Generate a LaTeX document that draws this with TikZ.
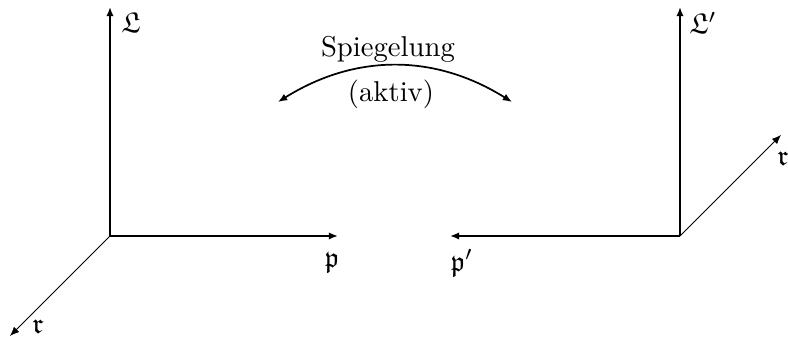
\documentclass[tikz,border=0pt]{standalone}
\usepackage{amsmath}
\usepackage{amssymb}
\usepackage{tikz}
\usetikzlibrary{arrows.meta,positioning}
\tikzset{
  axis/.style={line width=0.9pt, -{Latex[length=3.2pt,width=2.6pt]}},
  depth/.style={line width=0.35pt, -{Latex[length=3.2pt,width=2.6pt]}},
  flip/.style={line width=0.6pt, {Latex[length=3.2pt,width=2.6pt]}-{Latex[length=3.2pt,width=2.6pt]}},
  lbl/.style={inner sep=0pt},
}

\begin{document}
\begin{tikzpicture}[x=0.3484pt, y=0.3484pt]
    \useasboundingbox (0,0) rectangle (788,340);
    % left frame
    \coordinate (lo) at (110,104);
    \coordinate (ltop) at (110,333);
    \coordinate (lp) at (338,104);
    \coordinate (lr) at (10,4);
    % right frame
    \coordinate (ro) at (680,104);
    \coordinate (rtop) at (680,333);
    \coordinate (rp) at (450,104);
    \coordinate (rr) at (781,205);
    % mirror arc
    \coordinate (al) at (278,238);
    \coordinate (ar) at (512,238);
    \node[lbl] (lL) at (131,317) {$\mathfrak{L}$};
    \node[lbl] (lpl) at (332,77) {$\mathfrak{p}$};
    \node[lbl] (lrl) at (38,13) {$\mathfrak{r}$};
    \node[lbl] (rL) at (703,317) {$\mathfrak{L}'$};
    \node[lbl] (rpl) at (462,77) {$\mathfrak{p}'$};
    \node[lbl] (rrl) at (783,181) {$\mathfrak{r}$};
    \node[lbl] (sp) at (388,291) {Spiegelung};
    \node[lbl] (ak) at (391,246) {(aktiv)};
    \draw[axis] (lo) -- (ltop);
    \draw[axis] (lo) -- (lp);
    \draw[depth] (lo) -- (lr);
    \draw[axis] (ro) -- (rtop);
    \draw[axis] (ro) -- (rp);
    \draw[depth] (ro) -- (rr);
    \draw[flip] (al) to[bend left=32] (ar);
  \end{tikzpicture}
\end{document}
